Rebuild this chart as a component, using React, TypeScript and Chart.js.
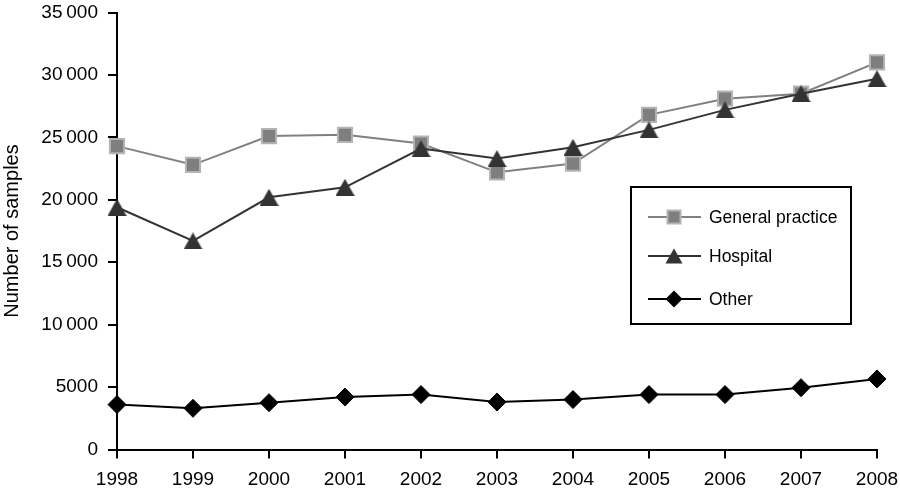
import React, { useEffect, useRef } from 'react';
import { Chart, registerables } from 'chart.js';

Chart.register(...registerables);

const years = ['1998', '1999', '2000', '2001', '2002', '2003', '2004', '2005', '2006', '2007', '2008'];
const generalPractice = [24300, 22800, 25100, 25200, 24500, 22200, 22900, 26800, 28100, 28500, 31000];
const hospital = [19400, 16700, 20200, 21000, 24100, 23300, 24200, 25600, 27200, 28500, 29700];
const other = [3600, 3300, 3750, 4200, 4400, 3800, 4000, 4400, 4400, 4950, 5650];
const seriesNames = ['General practice', 'Hospital', 'Other'];
const yTicks = [0, 5000, 10000, 15000, 20000, 25000, 30000, 35000];
const yTickLabels = ['0', '5000', '10\u2009000', '15\u2009000', '20\u2009000', '25\u2009000', '30\u2009000', '35\u2009000'];
const yAxisTitle = 'Number of samples';

const FONT = '"Liberation Sans", Arial, Helvetica, sans-serif';

const GP_LINE = '#808080';
const GP_FILL = '#7f7f7f';
const GP_BORDER = '#b4b4b4';
const HOSP = '#333333';
const OTHER = '#000000';

function makeTriangle(w: number, h: number, color: string): HTMLCanvasElement {
  const c = document.createElement('canvas');
  c.width = w;
  c.height = h;
  const g = c.getContext('2d')!;
  g.fillStyle = color;
  g.beginPath();
  g.moveTo(w / 2, 0);
  g.lineTo(w, h);
  g.lineTo(0, h);
  g.closePath();
  g.fill();
  return c;
}

function drawSquare(ctx: CanvasRenderingContext2D, x: number, y: number, s: number) {
  ctx.fillStyle = GP_FILL;
  ctx.strokeStyle = GP_BORDER;
  ctx.lineWidth = 2;
  ctx.fillRect(x - s / 2, y - s / 2, s, s);
  ctx.strokeRect(x - s / 2, y - s / 2, s, s);
}

function drawTri(ctx: CanvasRenderingContext2D, x: number, y: number, w: number, h: number) {
  ctx.fillStyle = HOSP;
  ctx.beginPath();
  ctx.moveTo(x, y - h / 2);
  ctx.lineTo(x + w / 2, y + h / 2);
  ctx.lineTo(x - w / 2, y + h / 2);
  ctx.closePath();
  ctx.fill();
}

function drawDiamond(ctx: CanvasRenderingContext2D, x: number, y: number, r: number) {
  ctx.fillStyle = OTHER;
  ctx.beginPath();
  ctx.moveTo(x, y - r);
  ctx.lineTo(x + r, y);
  ctx.lineTo(x, y + r);
  ctx.lineTo(x - r, y);
  ctx.closePath();
  ctx.fill();
}

const boxLegend = {
  id: 'boxLegend',
  afterDraw(chart: any) {
    const { ctx, chartArea } = chart;
    const x0 = chartArea.left + 514;
    const y0 = chartArea.top + 174.5;
    const w = 220;
    const h = 137;
    ctx.save();
    ctx.strokeStyle = '#000';
    ctx.lineWidth = 2;
    ctx.strokeRect(x0, y0, w, h);
    const rows = [30, 69, 112];
    const colors = [GP_LINE, HOSP, OTHER];
    seriesNames.forEach((name, i) => {
      const cy = y0 + rows[i];
      ctx.strokeStyle = colors[i];
      ctx.lineWidth = 2;
      ctx.beginPath();
      ctx.moveTo(x0 + 17, cy);
      ctx.lineTo(x0 + 70, cy);
      ctx.stroke();
      const mx = x0 + 43;
      if (i === 0) drawSquare(ctx, mx, cy, 13);
      else if (i === 1) drawTri(ctx, mx, cy, 17, 15);
      else drawDiamond(ctx, mx, cy, 8.5);
      ctx.fillStyle = '#000';
      ctx.font = `17.5px ${FONT}`;
      ctx.textBaseline = 'middle';
      ctx.textAlign = 'left';
      ctx.fillText(name, x0 + 78, cy + 1);
    });
    ctx.restore();
  },
};

export default function App() {
  const ref = useRef<HTMLCanvasElement>(null);

  useEffect(() => {
    const tri = makeTriangle(19, 17, HOSP);
    const chart = new Chart(ref.current!, {
      type: 'line',
      data: {
        labels: years,
        datasets: [
          {
            label: seriesNames[0],
            data: generalPractice,
            borderColor: GP_LINE,
            borderWidth: 2,
            pointStyle: 'rect',
            pointRadius: 10,
            pointBackgroundColor: GP_FILL,
            pointBorderColor: GP_BORDER,
            pointBorderWidth: 2,
            tension: 0,
            order: 2,
            clip: false as any,
          },
          {
            label: seriesNames[1],
            data: hospital,
            borderColor: HOSP,
            borderWidth: 2,
            pointStyle: tri as any,
            pointRadius: 10,
            tension: 0,
            order: 1,
            clip: false as any,
          },
          {
            label: seriesNames[2],
            data: other,
            borderColor: OTHER,
            borderWidth: 2,
            pointStyle: 'rectRot',
            pointRadius: 9,
            pointBackgroundColor: OTHER,
            pointBorderColor: OTHER,
            pointBorderWidth: 1,
            tension: 0,
            order: 0,
            clip: false as any,
          },
        ],
      },
      options: {
        animation: false,
        responsive: false,
        events: [],
        layout: { padding: { top: 12.5, right: 23, bottom: 0, left: 0 } },
        plugins: {
          legend: { display: false },
          tooltip: { enabled: false },
        },
        scales: {
          x: {
            type: 'category',
            offset: false,
            grid: {
              display: true,
              drawOnChartArea: false,
              drawTicks: true,
              tickLength: 9,
              color: '#000',
              lineWidth: 2,
            },
            border: { display: true, color: '#000', width: 2 },
            ticks: {
              color: '#000',
              font: { family: FONT, size: 19 },
              padding: 10,
              maxRotation: 0,
              autoSkip: false,
            },
            afterFit: (s: any) => {
              s.height = 43.5;
              s.paddingLeft = 0;
              s.paddingRight = 0;
              s.paddingTop = 0;
              s.paddingBottom = 0;
            },
          },
          y: {
            min: 0,
            max: 35000,
            afterBuildTicks: (s: any) => {
              s.ticks = yTicks.map((v) => ({ value: v }));
            },
            grid: {
              display: true,
              drawOnChartArea: false,
              drawTicks: true,
              tickLength: 9,
              color: '#000',
              lineWidth: 2,
            },
            border: { display: true, color: '#000', width: 2 },
            ticks: {
              color: '#000',
              font: { family: FONT, size: 19 },
              padding: 10,
              callback: (v: any) => {
                const i = yTicks.indexOf(Number(v));
                return i >= 0 ? yTickLabels[i] : '';
              },
            },
            title: {
              display: true,
              text: yAxisTitle,
              color: '#000',
              font: { family: FONT, size: 20 },
              padding: { top: 0, bottom: 0 },
            },
            afterFit: (s: any) => {
              s.width = 117;
              s.paddingLeft = 0;
              s.paddingRight = 0;
              s.paddingTop = 0;
              s.paddingBottom = 0;
            },
          },
        },
      },
      plugins: [boxLegend],
    });
    return () => chart.destroy();
  }, []);

  return (
    <canvas
      ref={ref}
      width={900}
      height={493}
      style={{ position: 'absolute', left: 0, top: 0, display: 'block', width: 900, height: 493 }}
    />
  );
}
